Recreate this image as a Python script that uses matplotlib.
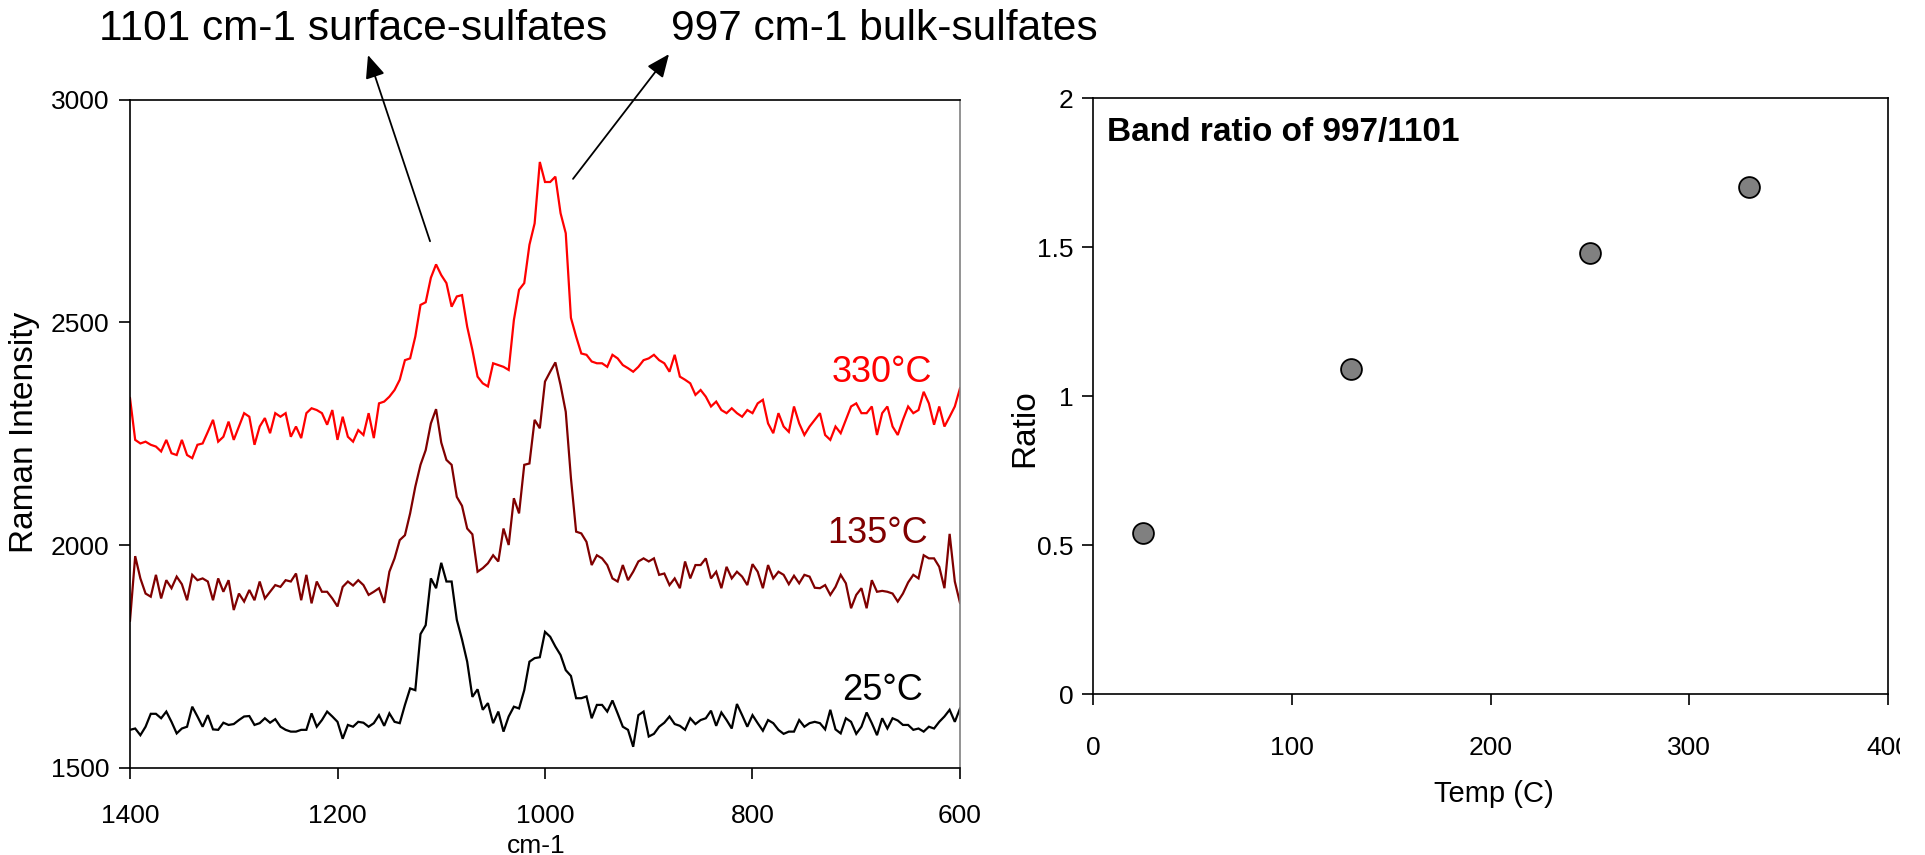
import numpy as np
import matplotlib
matplotlib.use("Agg")
import matplotlib.pyplot as plt
from matplotlib.transforms import Bbox

# ---------------- data ----------------
wavenumber = np.arange(1400, 599, -5)  # cm-1, sampling grid 1400 -> 600

spec_330 = [
    2330, 2236, 2228, 2232, 2225, 2221, 2210, 2236, 2206, 2202,
    2236, 2202, 2195, 2225, 2228, 2254, 2281, 2232, 2243, 2277,
    2236, 2266, 2296, 2288, 2225, 2266, 2285, 2251, 2296, 2288,
    2296, 2243, 2266, 2240, 2296, 2307, 2303, 2296, 2270, 2303,
    2236, 2288, 2243, 2232, 2258, 2247, 2296, 2240, 2318, 2322,
    2333, 2348, 2371, 2415,
    2419, 2468, 2539, 2545, 2600, 2630, 2606, 2588, 2535, 2558,
    2561, 2490, 2438, 2378, 2363, 2356, 2408, 2404, 2400, 2393,
    2505, 2573, 2588, 2674, 2722, 2860, 2815, 2815, 2827, 2745,
    2700, 2510, 2468, 2430, 2427, 2412, 2408, 2408, 2400, 2427,
    2419, 2404, 2397, 2389, 2400, 2415, 2419, 2427, 2415, 2408,
    2389, 2427, 2378,
    2371, 2363, 2337, 2348, 2333, 2311, 2322, 2303, 2296, 2307,
    2296, 2288, 2303, 2296, 2318, 2326, 2273, 2251, 2296, 2266,
    2254, 2311, 2273, 2247, 2266, 2281, 2296, 2247, 2236, 2266,
    2251, 2281, 2311, 2318, 2296, 2296, 2311, 2247, 2296, 2311,
    2266, 2247, 2281, 2311, 2296, 2303, 2344, 2318, 2270, 2311,
    2266, 2288, 2311, 2352,
]

spec_135 = [
    1830, 1975, 1925, 1891, 1884, 1933, 1880, 1921, 1903, 1929,
    1912, 1876, 1933, 1921, 1925, 1918, 1876, 1925, 1895, 1921,
    1854, 1891, 1873, 1899, 1876, 1918, 1880, 1895, 1910, 1906,
    1921, 1918, 1936, 1876, 1933, 1869, 1918, 1895, 1895, 1880,
    1862, 1906, 1918, 1909, 1921, 1910, 1888, 1895, 1903, 1870,
    1940, 1970, 2011, 2022,
    2071, 2131, 2180, 2213, 2273, 2305, 2230, 2191, 2180, 2108,
    2088, 2037, 2024, 1940, 1948, 1959, 1977, 1963, 2037, 2000,
    2105, 2071, 2180, 2183, 2281, 2262, 2367, 2389, 2410, 2359,
    2299, 2150, 2030, 2026, 2007, 1955, 1977, 1970, 1955, 1925,
    1918, 1955, 1921, 1940, 1963, 1970, 1963, 1970, 1933, 1936,
    1910, 1925, 1903,
    1963, 1925, 1955, 1955, 1970, 1925, 1940, 1903, 1951, 1925,
    1940, 1929, 1910, 1957, 1940, 1903, 1955, 1925, 1940, 1933,
    1912, 1931, 1914, 1933, 1929, 1904, 1903, 1910, 1888, 1906,
    1933, 1914, 1858, 1888, 1903, 1858, 1921, 1895, 1897, 1895,
    1891, 1873, 1891, 1916, 1933, 1925, 1977, 1970, 1970, 1951,
    1903, 2025, 1918, 1870,
]

spec_25 = [
    1585, 1588, 1573, 1592, 1621, 1621, 1611, 1626, 1603, 1577,
    1588, 1592, 1637, 1615, 1592, 1618, 1586, 1585, 1601, 1596,
    1598, 1607, 1615, 1616, 1596, 1600, 1611, 1601, 1609, 1592,
    1585, 1581, 1581, 1585, 1585, 1622, 1592, 1607, 1626, 1615,
    1603, 1565, 1596, 1592, 1603, 1601, 1592, 1600, 1618, 1594,
    1622, 1603, 1600, 1641,
    1678, 1674, 1800, 1820, 1925, 1903, 1960, 1918, 1918, 1832,
    1788, 1738, 1659, 1676, 1630, 1645, 1600, 1626, 1581, 1615,
    1637, 1633, 1674, 1738, 1746, 1748, 1805, 1794, 1772, 1753,
    1719, 1706, 1656, 1656, 1660, 1611, 1641, 1641, 1626, 1651,
    1622, 1592, 1585, 1547, 1618, 1626, 1570, 1576, 1592, 1601,
    1615, 1598, 1594,
    1585, 1611, 1598, 1607, 1611, 1628, 1594, 1624, 1607, 1588,
    1643, 1618, 1592, 1618, 1600, 1583, 1607, 1600, 1585, 1576,
    1581, 1581, 1607, 1592, 1600, 1603, 1600, 1586, 1630, 1586,
    1577, 1611, 1603, 1576, 1592, 1624, 1600, 1573, 1611, 1588,
    1611, 1606, 1596, 1596, 1585, 1588, 1581, 1592, 1588, 1603,
    1615, 1630, 1603, 1633,
]

series_labels = ["330°C", "135°C", "25°C"]
series_colors = ["#FF0000", "#800000", "#000000"]

spec_xticks = [1400, 1200, 1000, 800, 600]
spec_yticks = [1500, 2000, 2500, 3000]

temps = [25, 130, 250, 330]
ratios = [0.54, 1.09, 1.48, 1.70]
ratio_xticks = [0, 100, 200, 300, 400]
ratio_yticks = [0, 0.5, 1, 1.5, 2]
ratio_yticklabels = ["0", "0.5", "1", "1.5", "2"]

# ---------------- figure ----------------
W, H = 1925, 855
fig = plt.figure(figsize=(W / 100, H / 100), dpi=100)
REG = "Liberation Sans"
TICK_FS = 19


def fx(px):
    return px / W


def fy(py):
    return 1 - py / H


# ---- left: spectra ----
ax1 = fig.add_axes([fx(130), fy(767.7), 830 / W, (767.7 - 99.6) / H])
for y, c in zip([spec_330, spec_135, spec_25], series_colors):
    ax1.plot(wavenumber, y, color=c, lw=1.6, solid_joinstyle="miter")
ax1.set_xlim(1400, 600)
ax1.set_ylim(1500, 3000)
ax1.set_xticks(spec_xticks)
ax1.set_yticks(spec_yticks)
ax1.tick_params(axis="both", direction="out", length=8, width=1.2,
                labelsize=TICK_FS, labelfontfamily=REG)
ax1.tick_params(axis="x", pad=18)
ax1.tick_params(axis="y", pad=7)
for side in ["left", "bottom", "top"]:
    ax1.spines[side].set_linewidth(1.2)
    ax1.spines[side].set_color("black")
ax1.spines["right"].set_color("#808080")
ax1.spines["right"].set_linewidth(1.2)

# temperature labels (right aligned, baseline)
ax1.text(627, 2366, series_labels[0], color=series_colors[0], fontsize=26,
         family=REG, ha="right", va="baseline")
ax1.text(631, 2004, series_labels[1], color=series_colors[1], fontsize=26,
         family=REG, ha="right", va="baseline")
ax1.text(636, 1652, series_labels[2], color=series_colors[2], fontsize=26,
         family=REG, ha="right", va="baseline")

# arrows to the band annotations
arrow_kw = dict(arrowstyle="-|>,head_length=0.7,head_width=0.3", color="black",
                lw=1.3, mutation_scale=20, shrinkA=0, shrinkB=0)
ax1.annotate("", xy=(1170.6, 3100), xytext=(1110.8, 2682),
             arrowprops=arrow_kw, annotation_clip=False)
ax1.annotate("", xy=(880.5, 3102), xytext=(973, 2822),
             arrowprops=arrow_kw, annotation_clip=False)

fig.text(fx(99), fy(40), "1101 cm-1 surface-sulfates", fontsize=30.5,
         family=REG, ha="left", va="baseline")
fig.text(fx(671), fy(40), "997 cm-1 bulk-sulfates", fontsize=30.5,
         family=REG, ha="left", va="baseline")

fig.text(fx(25), fy(432), "Raman Intensity", fontsize=24, family=REG,
         rotation=90, ha="center", va="center")
fig.text(fx(536), fy(834), "cm-1", fontsize=19, family=REG,
         ha="center", va="top")

# ---- right: band ratio ----
ax2 = fig.add_axes([fx(1093), fy(694), 795 / W, 596 / H])
ax2.plot(temps, ratios, linestyle="none", marker="o", markersize=15,
         markerfacecolor="#808080", markeredgecolor="black", markeredgewidth=1.3)
ax2.set_xlim(0, 400)
ax2.set_ylim(0, 2)
ax2.set_xticks(ratio_xticks)
ax2.set_yticks(ratio_yticks, labels=ratio_yticklabels)
ax2.tick_params(axis="both", direction="out", length=8, width=1.2,
                labelsize=TICK_FS, labelfontfamily=REG)
ax2.tick_params(axis="x", pad=22)
ax2.tick_params(axis="y", pad=6)
for side in ax2.spines:
    ax2.spines[side].set_linewidth(1.2)
    ax2.spines[side].set_color("black")

fig.text(fx(1107), fy(141), "Band ratio of 997/1101", fontsize=24,
         family=REG, weight="bold", ha="left", va="baseline")
fig.text(fx(1025), fy(428), "Ratio", fontsize=24, family=REG,
         rotation=90, ha="center", va="center")
fig.text(fx(1494), fy(794), "Temp (C)", fontsize=21, family=REG,
         ha="center", va="center")

fig.canvas.draw()
last = ax2.get_xticklabels()[-1]
last.set_clip_box(Bbox.from_extents(0, 0, 1900, H))
last.set_clip_on(True)

fig.savefig("out.png", dpi=100)
